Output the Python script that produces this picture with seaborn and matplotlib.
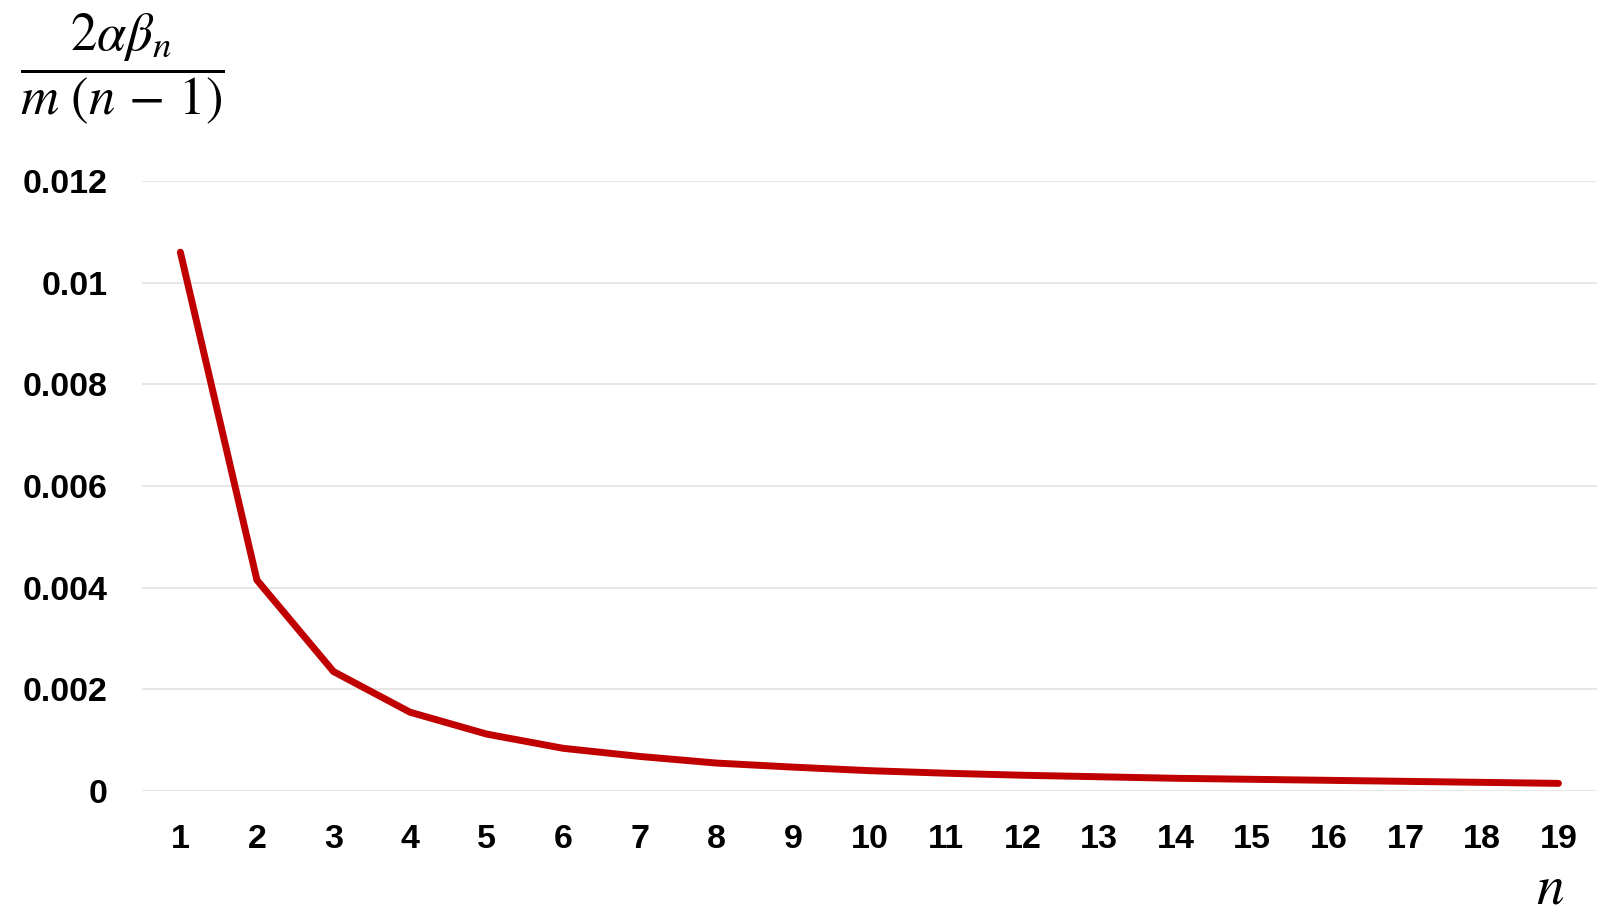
import pandas as pd
import matplotlib
matplotlib.use("Agg")
import matplotlib.pyplot as plt
import seaborn as sns

# values
n_values = list(range(1, 20))
ratio_values = [0.01060, 0.00415, 0.00235, 0.00155, 0.00112, 0.00084, 0.00068,
                0.00055, 0.00047, 0.00040, 0.00035, 0.00031, 0.00028, 0.00025,
                0.00023, 0.00021, 0.00019, 0.00017, 0.00015]
y_ticks = [0, 0.002, 0.004, 0.006, 0.008, 0.01, 0.012]
y_tick_labels = ["0", "0.002", "0.004", "0.006", "0.008", "0.01", "0.012"]

df = pd.DataFrame({"n": n_values, "ratio": ratio_values})

sns.set_style("white")
plt.rcParams["font.family"] = ["Liberation Sans", "DejaVu Sans"]
plt.rcParams["mathtext.fontset"] = "stix"

fig = plt.figure(figsize=(16, 9.17), dpi=100)
ax = fig.add_axes([0.0888, 0.1374, 0.9092, 0.6652])

sns.lineplot(data=df, x="n", y="ratio", ax=ax, color="#C00000", linewidth=5,
             solid_capstyle="round", solid_joinstyle="miter")

ax.set_xlim(0.5, 19.5)
ax.set_ylim(0, 0.012)
ax.set_xticks(n_values)
ax.set_xticklabels([str(v) for v in n_values], fontsize=24.5, fontweight="bold",
                   color="black")
ax.set_yticks(y_ticks)
ax.set_yticklabels(y_tick_labels, fontsize=24.5, fontweight="bold", color="black")
ax.tick_params(axis="both", length=0)
ax.tick_params(axis="y", pad=25)
ax.tick_params(axis="x", pad=24)
ax.yaxis.grid(True, color="#E3E3E3", linewidth=1.2)
ax.xaxis.grid(False)
ax.set_axisbelow(True)
for s in ax.spines.values():
    s.set_visible(False)
ax.set_xlabel("")
ax.set_ylabel("")

fig.text(0.0765, 0.925, r"$\dfrac{2\alpha\beta_n}{m\ (n\,-\,1)}$", fontsize=38,
         ha="center", va="center", color="black")
fig.text(0.969, 0.002, r"$n$", fontsize=40, ha="center", va="bottom", color="black")

fig.savefig("out.png", dpi=100)
